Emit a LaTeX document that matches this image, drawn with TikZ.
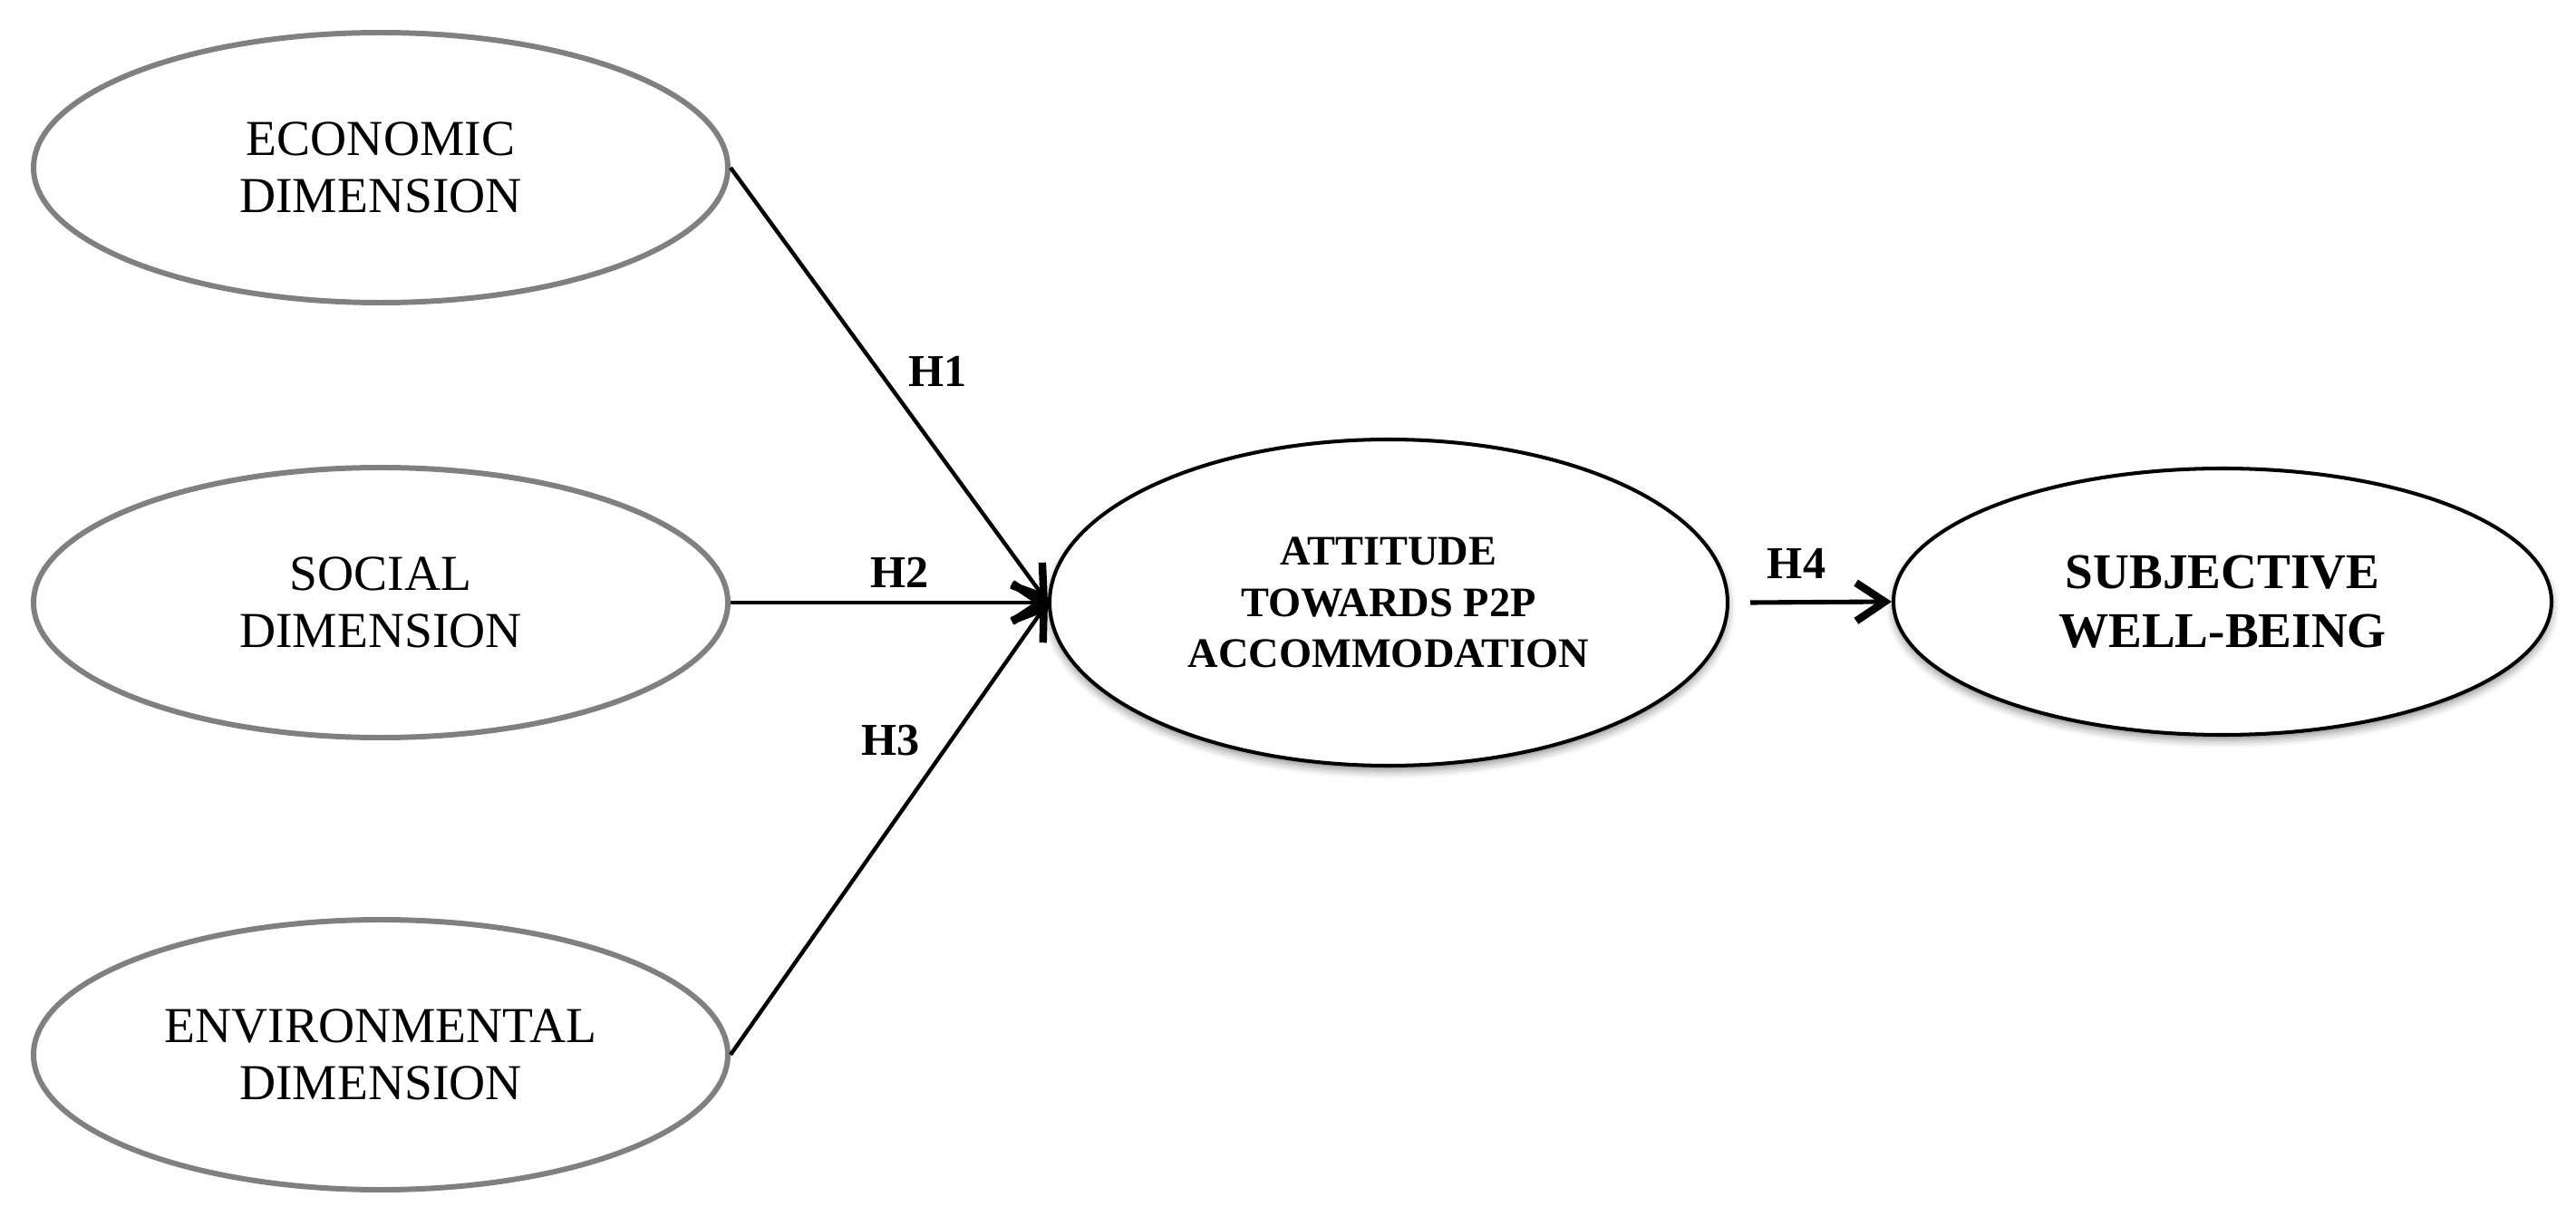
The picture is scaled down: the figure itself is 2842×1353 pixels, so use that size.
\documentclass[tikz,border=0pt]{standalone}
\usepackage{fontspec}
\setmainfont{Liberation Serif}
\usetikzlibrary{shapes.geometric,arrows.meta,shadows.blur}
\begin{document}
\begin{tikzpicture}[x=0.1mm,y=-0.1mm,
  dimnode/.style={ellipse,draw=black!50,line width=1.7pt,inner sep=0pt,
    minimum width=76.6mm,minimum height=29.8mm,align=center,
    font=\fontsize{15.8pt}{18pt}\selectfont},
  mainnode/.style={ellipse,draw=black,fill=white,line width=1.15pt,inner sep=0pt,align=center,
    blur shadow={shadow xshift=0pt,shadow yshift=-1.6pt,shadow blur radius=2.5pt,shadow opacity=45}},
  hyparrow/.style={line width=1.25pt,-{Straight Barb[length=9pt,width=12pt,line width=2.4pt]}},
  hyplabel/.style={font=\bfseries\fontsize{14.3pt}{16pt}\selectfont,inner sep=0pt}]
\useasboundingbox (0,0) rectangle (2842,1353);
\node[dimnode] (eco) at (420,185) {ECONOMIC\\DIMENSION};
\node[dimnode] (soc) at (420,665) {SOCIAL\\DIMENSION};
\node[dimnode] (env) at (420,1164) {ENVIRONMENTAL\\DIMENSION};
\node[mainnode,minimum width=74.8mm,minimum height=36mm,
  font=\bfseries\fontsize{13.2pt}{16pt}\selectfont] (att) at (1532,665)
  {ATTITUDE\\TOWARDS P2P\\ACCOMMODATION};
\node[mainnode,minimum width=72.6mm,minimum height=29.4mm,
  font=\bfseries\fontsize{15.7pt}{18.5pt}\selectfont] (swb) at (2452,664)
  {SUBJECTIVE\\WELL-BEING};
\coordinate (h4start) at (1931,665);
\draw[hyparrow] (eco.east) -- (att.west);
\draw[hyparrow] (soc.east) -- (att.west);
\draw[hyparrow] (env.east) -- (att.west);
\draw[hyparrow,line width=1.45pt] (h4start) -- (swb.west);
\node[hyplabel] (l1) at (1035,410) {H1};
\node[hyplabel] (l2) at (993,632) {H2};
\node[hyplabel] (l3) at (983,817) {H3};
\node[hyplabel] (l4) at (1982,622) {H4};
\end{tikzpicture}
\end{document}
